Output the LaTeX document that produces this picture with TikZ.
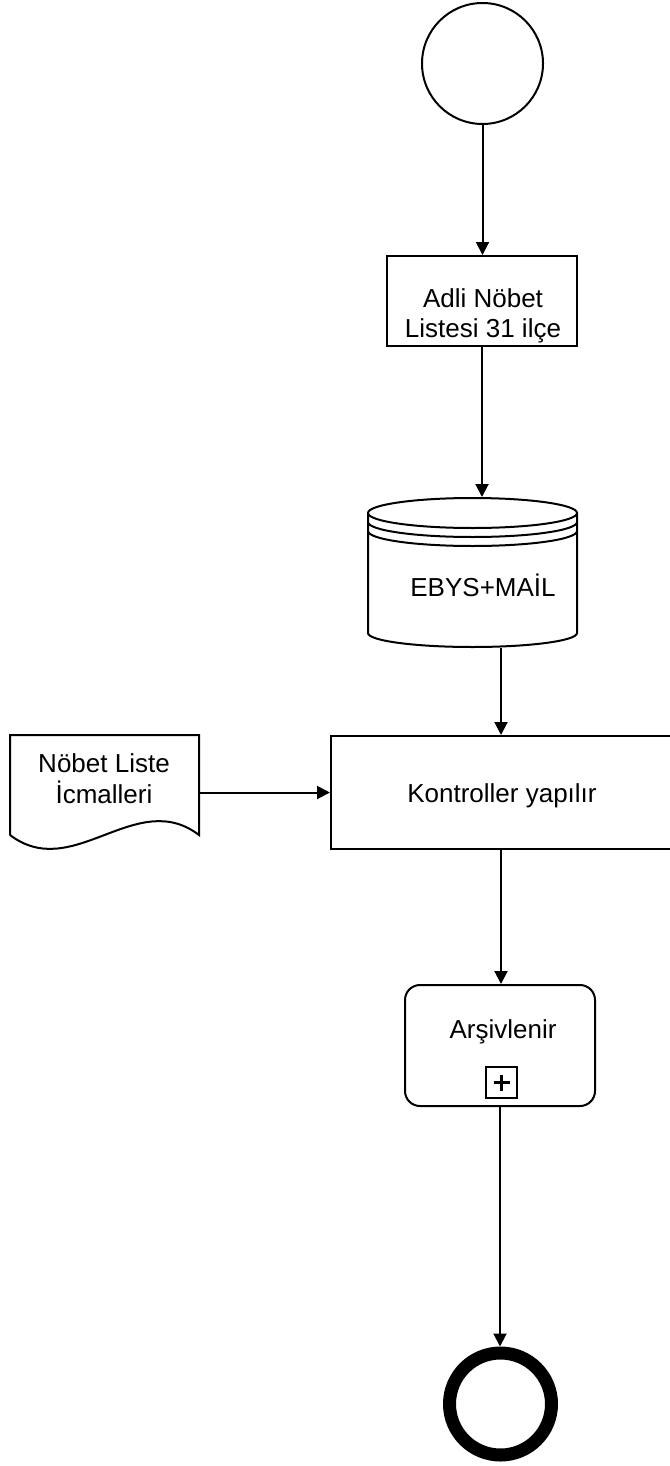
\documentclass[tikz,border=0pt]{standalone}
\usepackage{fontspec}
\setmainfont{Liberation Sans}
\usetikzlibrary{arrows.meta}
\begin{document}
\begin{tikzpicture}[x=1pt,y=-1pt,line width=2pt,
  every node/.style={inner sep=0pt},
  lbl/.style={anchor=base,font=\fontsize{26}{30}\selectfont},
  flow/.style={-{Triangle[length=13pt,width=13pt]},line width=2pt},
  box/.style={draw,rectangle,line width=2pt}]
\useasboundingbox (0,0) rectangle (669,1466);
% start event
\node[draw,circle,minimum size=121pt] (start) at (482.5,63.5) {};
% task
\node[box,minimum width=190pt,minimum height=90pt] (adli) at (482,301) {};
\node[lbl] (adliA) at (483,307) {Adli Nöbet};
\node[lbl] (adliB) at (483,337) {Listesi 31 ilçe};
% data store (cylinder)
\node[minimum width=209pt,minimum height=149pt] (db) at (472.5,572.5) {};
\draw (368,513) -- (368,633) arc[start angle=180,end angle=360,x radius=104.5pt,y radius=14pt] -- (577,513);
\draw (472.5,513) ellipse[x radius=104.5pt,y radius=15pt];
\draw (368,522) arc[start angle=180,end angle=360,x radius=104.5pt,y radius=15pt];
\draw (368,531) arc[start angle=180,end angle=360,x radius=104.5pt,y radius=15pt];
\node[lbl] (dbtxt) at (483,596) {EBYS+MAİL};
% control task
\node[box,minimum width=340pt,minimum height=113pt] (kont) at (501,792.5) {};
\node[lbl] (konttxt) at (502,802) {Kontroller yapılır};
% document
\node[minimum width=189pt,minimum height=100pt] (doc) at (104.5,785) {};
\draw (10,835) -- (10,735) -- (199,735) -- (199,835)
  .. controls (136,787) and (73,883) .. (10,835);
\node[lbl] (docA) at (104,772) {Nöbet Liste};
\node[lbl] (docB) at (104,803) {İcmalleri};
% subprocess
\node[box,rounded corners=15pt,minimum width=190pt,minimum height=121pt] (ars) at (500,1045.5) {};
\node[lbl] (arstxt) at (503,1038) {Arşivlenir};
\node[draw,line width=2pt,minimum size=31pt] (plus) at (501.5,1082.5) {};
\draw[line width=3.5pt] ([xshift=-8pt]plus.center) -- ([xshift=8pt]plus.center);
\draw[line width=3.5pt] ([yshift=-8pt]plus.center) -- ([yshift=8pt]plus.center);
% end event
\node[draw,circle,line width=13pt,minimum size=102pt] (end) at (500.5,1404) {};
% connectors
\draw[flow] (start.south) -- (start.south |- adli.north);
\draw[flow] (adli.south) -- (adli.south |- db.north);
\draw[flow] (db.south -| kont.north) -- (kont.north);
\draw[flow] (doc.east |- kont.west) -- (kont.west);
\draw[flow] (kont.south) -- (kont.south |- ars.north);
\draw[flow] (ars.south) -- (ars.south |- end.north);
\end{tikzpicture}
\end{document}
